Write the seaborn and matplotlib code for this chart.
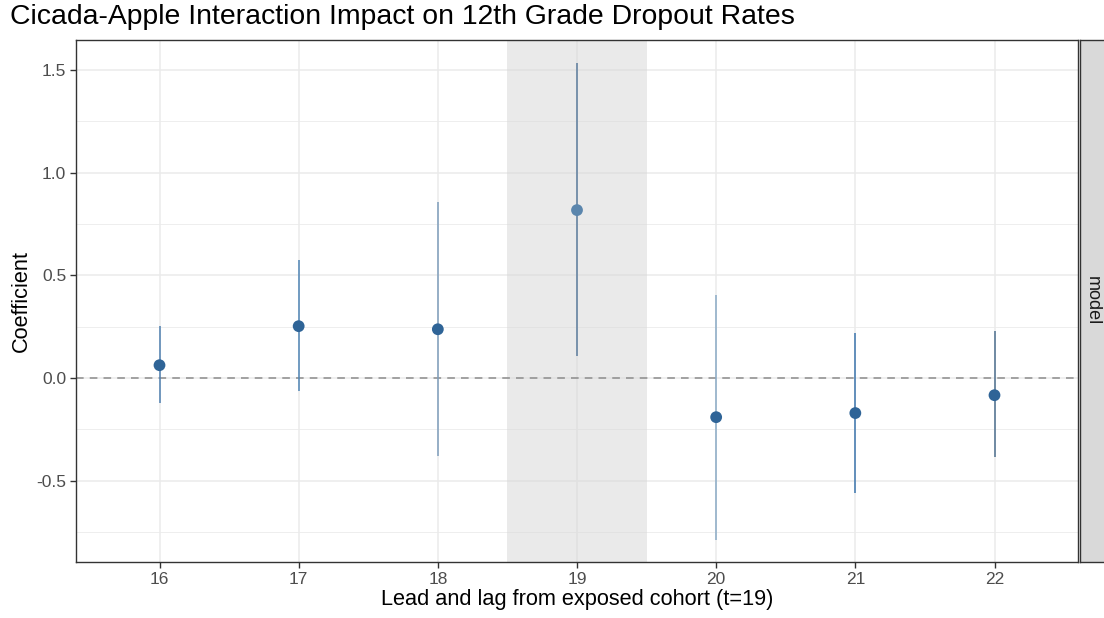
import numpy as np
import pandas as pd
import matplotlib
matplotlib.use("Agg")
import matplotlib.pyplot as plt
import seaborn as sns

# Event-study estimates by cohort
cohorts = [16, 17, 18, 19, 20, 21, 22]
coef = [0.063, 0.253, 0.238, 0.818, -0.190, -0.170, -0.083]
ci_low = [-0.122, -0.063, -0.380, 0.107, -0.788, -0.560, -0.384]
ci_high = [0.253, 0.574, 0.856, 1.533, 0.404, 0.219, 0.229]
point_colors = ["#2f6497", "#2f6497", "#2f6497", "#5b86ad", "#2f6497", "#2f6497", "#2f6497"]
line_colors = ["#4f80b0", "#4f84b5", "#7e9dbb", "#5b7c9c", "#8aaac6", "#3b75ad", "#4c6e8e"]
exposed = 19

df = pd.DataFrame({"cohort": cohorts, "coef": coef, "lo": ci_low, "hi": ci_high})

sns.set_theme(style="white")
plt.rcParams["font.family"] = ["Liberation Sans", "DejaVu Sans"]

fig = plt.figure(figsize=(11.04, 6.18), dpi=100)
ax = fig.add_axes([76 / 1104, 1 - 562 / 618, 1002 / 1104, 522 / 618])

ax.set_xlim(15.4, 22.6)
ax.set_ylim(-0.895, 1.646)

# grid
for y in np.arange(-0.75, 1.76, 0.25):
    major = abs(y * 2 - round(y * 2)) < 1e-9
    ax.axhline(y, color="#ebebeb", lw=1.1 if major else 0.6, zorder=0)
for x in cohorts:
    ax.axvline(x, color="#ebebeb", lw=1.1, zorder=0)

# exposed cohort band
ax.axvspan(exposed - 0.5, exposed + 0.5, color="#d9d9d9", alpha=0.55, lw=0, zorder=0.5)

ax.axhline(0, color="#8c8c8c", lw=1.1, ls=(0, (5, 4)), zorder=1)

for x, lo, hi, c in zip(df["cohort"], df["lo"], df["hi"], line_colors):
    ax.vlines(x, lo, hi, color=c, lw=1.1, zorder=2)

sns.scatterplot(data=df, x="cohort", y="coef", hue="cohort",
                palette=dict(zip(cohorts, point_colors)), s=72,
                edgecolor="none", legend=False, ax=ax, zorder=3)

ax.set_xticks(cohorts)
ax.set_xticklabels([str(c) for c in cohorts])
ax.set_yticks([-0.5, 0.0, 0.5, 1.0, 1.5])
ax.set_yticklabels(["-0.5", "0.0", "0.5", "1.0", "1.5"])
ax.tick_params(axis="both", which="both", length=4, width=1, color="#333333",
               labelcolor="#4d4d4d", labelsize=12.5, bottom=True, left=True, pad=3)
for s in ax.spines.values():
    s.set_color("#333333")
    s.set_linewidth(1.0)

ax.set_xlabel("Lead and lag from exposed cohort (t=19)", fontsize=15.7, color="black", labelpad=2)
ax.set_ylabel("Coefficient", fontsize=15.7, color="black", labelpad=3)

fig.text(10 / 1104, 1 - 17 / 618, "Cicada-Apple Interaction Impact on 12th Grade Dropout Rates",
         fontsize=20.4, color="black", va="center", ha="left")

# facet strip
sax = fig.add_axes([1080 / 1104, 1 - 562 / 618, 30 / 1104, 522 / 618])
sax.set_facecolor("#d9d9d9")
sax.set_xticks([])
sax.set_yticks([])
for s in sax.spines.values():
    s.set_color("#333333")
    s.set_linewidth(1.0)
sax.text(0.4, 0.5, "model", rotation=-90, ha="center", va="center",
         fontsize=13, color="#1a1a1a", transform=sax.transAxes)

fig.savefig("out.png", dpi=100)
